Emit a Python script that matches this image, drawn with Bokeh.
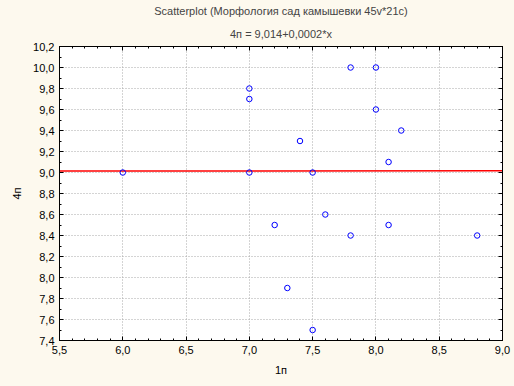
from bokeh.plotting import figure
from bokeh.models import (FixedTicker, CustomJSTickFormatter, LinearAxis, Title, Range1d)
from bokeh.embed import file_html
from bokeh.resources import INLINE

# data
x_1p = [6.0, 7.0, 7.0, 7.0, 7.2, 7.3, 7.4, 7.5, 7.5, 7.6, 7.8, 7.8, 8.0, 8.0, 8.1, 8.1, 8.2, 8.8]
y_4p = [9.0, 9.8, 9.7, 9.0, 8.5, 7.9, 9.3, 9.0, 7.5, 8.6, 10.0, 8.4, 10.0, 9.6, 9.1, 8.5, 9.4, 8.4]
intercept = 9.014
slope = 0.0002
x_ticks = [5.5, 6.0, 6.5, 7.0, 7.5, 8.0, 8.5, 9.0]
y_ticks = [7.4, 7.6, 7.8, 8.0, 8.2, 8.4, 8.6, 8.8, 9.0, 9.2, 9.4, 9.6, 9.8, 10.0, 10.2]
x_minor = [round(5.5 + 0.1 * i, 1) for i in range(36)]
y_minor = [round(7.4 + 0.1 * i, 1) for i in range(29)]
title1 = "Scatterplot (Морфология сад камышевки 45v*21c)"
title2 = "4п = 9,014+0,0002*x"

BG = "#FDF9EE"
FONT = "Liberation Sans"

p = figure(width=514, height=386, output_backend="svg", toolbar_location=None,
           x_range=Range1d(5.5, 9.0), y_range=Range1d(7.4, 10.2),
           min_border_left=59, min_border_right=12, min_border_top=46, min_border_bottom=46,
           x_axis_label="1п", y_axis_label="4п")
p.background_fill_color = "white"
p.border_fill_color = BG
p.outline_line_color = "black"
p.outline_line_width = 1

fmt = CustomJSTickFormatter(code="return tick.toFixed(1).replace('.', ',');")
blank = CustomJSTickFormatter(code="return '';")

def style_axis(ax, ticks, minor, labels=True):
    ax.ticker = FixedTicker(ticks=ticks, minor_ticks=minor)
    ax.axis_line_color = "black"
    ax.major_tick_in = 4
    ax.major_tick_out = 0
    ax.minor_tick_in = 2
    ax.minor_tick_out = 0
    ax.major_tick_line_color = "black"
    ax.minor_tick_line_color = "black"
    if labels:
        ax.formatter = fmt
        ax.major_label_text_font = FONT
        ax.major_label_text_font_size = "11px"
        ax.major_label_text_color = "black"
        ax.major_label_standoff = 5
        ax.axis_label_text_font = FONT
        ax.axis_label_text_font_size = "11px"
        ax.axis_label_text_font_style = "normal"
        ax.axis_label_text_color = "black"
        ax.axis_label_standoff = 7
    else:
        ax.formatter = blank
        ax.major_label_standoff = 0

style_axis(p.xaxis[0], x_ticks, x_minor)
style_axis(p.yaxis[0], y_ticks, y_minor)

top_ax = LinearAxis()
right_ax = LinearAxis()
style_axis(top_ax, x_ticks, x_minor, labels=False)
style_axis(right_ax, y_ticks, y_minor, labels=False)
p.add_layout(top_ax, "above")
p.add_layout(right_ax, "right")

for g in (p.xgrid[0], p.ygrid[0]):
    g.grid_line_color = "#A8A8A8"
    g.grid_line_dash = "1 2"
    g.grid_line_width = 1
p.xgrid[0].ticker = FixedTicker(ticks=x_ticks)
p.ygrid[0].ticker = FixedTicker(ticks=y_ticks)

p.title.text = title1
p.title.text_font = FONT
p.title.text_font_size = "11px"
p.title.text_font_style = "normal"
p.title.align = "center"
p.title.standoff = 4
p.add_layout(Title(text=title2, text_font=FONT, text_font_size="11px",
                   text_font_style="normal", align="center", standoff=14), "above")

xl = [x_ticks[0], x_ticks[-1]]
yl = [intercept + slope * v for v in xl]
p.line(xl, yl, line_color="red", line_width=1.5)

p.scatter(x_1p, y_4p, marker="circle", size=5.5, fill_color=None,
          line_color="blue", line_width=1)

html = file_html(p, INLINE)
html = html.replace("<head>", "<head><style>body{background:%s;}</style>" % BG, 1)
open("out.html", "w").write(html)
